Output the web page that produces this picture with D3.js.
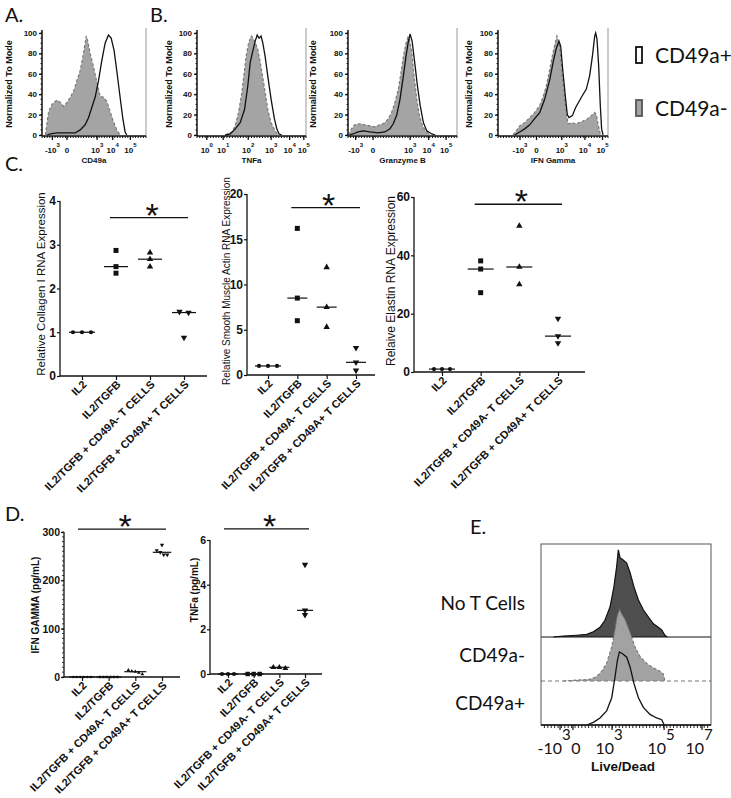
<!DOCTYPE html>
<html><head><meta charset="utf-8">
<script src="https://cdn.jsdelivr.net/npm/d3@7"></script>
<style>
body{margin:0;background:#fff}
svg{display:block}
text{font-family:"Liberation Sans",Arial,sans-serif}
</style>
</head><body>
<script>
// ---------------- DATA ----------------
// Flow histograms: [channel position 0-100, % of mode]
const aNeg = [[3.2,0],[6.4,23],[9.6,30],[12.8,33],[15,34],[17.6,32],[20.8,28],[24,32],[27.2,37],[30.4,43],[33.5,53],[36.7,63],[39.9,80],[42.5,97],[43.8,93],[46.3,80],[49.5,67],[52.7,52],[55.9,38],[59.1,37],[62.3,33],[65.5,23],[68.7,13],[71.9,5],[75.1,0]];
const aPos = [[4.8,0],[8,1],[14.4,2],[24,2],[31.9,2],[36.7,5],[41.5,10],[44.7,17],[47.9,27],[51.1,37],[54.3,53],[57.5,73],[60.7,90],[63.9,98],[66.5,95],[69.3,83],[71.9,63],[75.1,37],[77.6,17],[79.9,3],[81.5,0]];
const tnfNeg = [[25.9,0],[32,3],[35.1,9],[38.1,22],[41.2,42],[43.3,61],[45.1,77],[47.3,90],[49.7,97],[50.9,96],[52.7,92],[54,89],[55.8,84],[57.9,72],[60.1,58],[62.5,42],[64.9,25],[68,12],[71.6,4],[74.7,0]];
const tnfPos = [[25.9,0],[30.5,1],[35.1,6],[39.6,12],[43.6,25],[46.6,48],[48.8,71],[50.9,81],[53.4,92],[55.2,98],[57,95],[58.8,97],[60.4,90],[62.5,77],[64.9,58],[68,35],[71,16],[73.2,6],[75.3,1],[77.7,0]];
const gzbNeg = [[0.9,0],[3.1,6],[6.2,10],[10.8,11],[15.4,10],[20,9],[24.6,8],[29.2,10],[33.8,12],[36.9,16],[40,22],[43.1,32],[46.2,45],[48.6,61],[50.8,77],[53.2,90],[55.1,96],[56.3,94],[58.5,81],[60.6,58],[63.1,35],[65.5,19],[68.6,8],[72.3,3],[75.4,0]];
const gzbPos = [[1.5,0],[4.6,1],[9.2,3],[13.8,4],[20,3],[27.7,2],[33.8,3],[38.5,6],[41.5,11],[44.6,19],[47.7,35],[50.8,58],[53.2,77],[55.1,90],[56.9,99],[58.8,92],[61.2,71],[63.7,48],[66.2,29],[69.2,12],[72.3,4],[76.9,1],[80,0]];
const ifnNeg = [[13.6,0],[16.7,4],[19.7,9],[24.2,12],[28.8,17],[33.3,22],[37.9,29],[40.9,37],[43.9,48],[47,64],[50,81],[52.4,92],[53.6,97],[54.8,92],[56.1,87],[59.1,51],[62.1,22],[63.6,11],[66.7,12],[71.2,11],[75.8,13],[80.3,15],[84.8,19],[87.9,22],[89.4,20],[90.9,11],[93,1],[93.9,0]];
const ifnPos = [[15.2,0],[19.7,3],[24.2,6],[28.8,10],[33.3,16],[37.9,22],[42.4,35],[47,54],[50.6,74],[53,85],[55.5,92],[57,87],[59.1,61],[61.5,35],[63,20],[64.5,17],[67.6,19],[70.6,27],[75.8,37],[80.3,45],[83.3,58],[85.8,77],[87.9,97],[88.8,100],[90,94],[91.5,68],[93,29],[94.2,6],[95.5,0]];
const histYTicks = [0,20,40,60,80,100];
const aTicks = [10,24,53,68,85];
const tnfTicks = [9,24,47,68,85,98];
const gzbTicks = [7,23,57,74,90];
const ifnTicks = [20,35,58,79,95];
const logBase = ["-10","0","10","10","10"];
const logSup = ["3","","3","4","5"];
const tnfBase = ["10","10","10","10","10","10"];
const tnfSup = ["0","1","2","3","4","5"];
const histXLabels = ["CD49a","TNFa","Granzyme B","IFN Gamma"];
const legendLabels = ["CD49a+","CD49a-"];

// Dot plots
const categories = ["IL2","IL2/TGFB","IL2/TGFB + CD49A- T CELLS","IL2/TGFB + CD49A+ T CELLS"];
const collagen = [[1,1,1],[2.87,2.5,2.35],[2.82,2.67,2.5],[1.47,1.45,0.88]];
const smaActin = [[1,1,1],[16.2,8.5,6.0],[11.9,7.5,5.3],[3.0,1.4,0.5]];
const elastin = [[1,1,1],[38.1,35.3,27.2],[50.1,36,30],[18.3,12.3,9.9]];
const ifng = [[0,0,0,0,0,0],[0,0,0,0,0,0],[14,11,9,6,12],[273,262,258,253,253]];
const tnfa = [[0,0,0],[0,0,0],[0.25,0.3,0.3],[4.9,2.85,2.65]];
const collagenTicks = [0,1,2,3,4];
const smaTicks = [0,5,10,15,20];
const elastinTicks = [0,20,40,60];
const ifngTicks = [0,100,200,300];
const tnfaTicks = [0,2,4,6];
const sigLevels = [3.62, 18.5, 57.5, 306, 6.5];
const yLabels = ["Relative Collagen I RNA Expression","Relative Smooth Muscle Actin RNA Expression","Relaive Elastin RNA Expression","IFN GAMMA (pg/mL)","TNFa (pg/mL)"];

// Live/Dead offset histograms
const eNone = [[7.3,0],[13.1,1],[21,2],[26.9,3],[30.8,6],[34.7,11],[37.6,19],[40.6,34],[42.9,57],[44.5,80],[45.5,99],[46.5,90],[48,88],[50.4,84],[52.4,73],[54.7,57],[57.3,42],[60.2,31],[63.1,23],[66.1,15],[69,11],[71,8],[72.9,2],[74.3,0]];
const eNeg = [[13.1,0],[21,1],[28.8,2],[32.7,5],[35.7,11],[38.6,20],[41.6,39],[43.5,58],[44.9,74],[46.1,81],[47.5,76],[49.4,70],[52.4,55],[55.3,39],[58.2,28],[62.2,20],[66.1,15],[70,11],[72,8],[72.9,0]];
const ePos = [[26.9,0],[30.8,3],[34.7,8],[38.6,16],[41.6,31],[43.5,54],[44.9,73],[46.1,83],[48,81],[50.4,77],[52.4,66],[54.7,47],[57.3,31],[60.2,20],[64.1,12],[68,8],[71,6],[72.5,0]];
const eRowLabels = ["No T Cells","CD49a-","CD49a+"];
const eTicks = [11.2,18.8,41.8,72.4,94.7];
const eBase = ["-10","0","10","10","10"];
const eSup = ["3","","3","5","7"];

// ---------------- DRAW ----------------
const svg = d3.select("body").append("svg").attr("width",731).attr("height",798);
const CAL = "Lato, 'Open Sans', sans-serif";

function letter(x,y,s){ svg.append("text").attr("x",x).attr("y",y).text(s).style("font-family",CAL).style("font-size","20px").attr("fill","#111"); }
letter(5,22,"A."); letter(150,22,"B."); letter(5,171,"C."); letter(5,521,"D."); letter(470,534,"E.");

// ---- flow histograms ----
const histPanels = [
  {left:42,right:146,neg:aNeg,pos:aPos,ticks:aTicks,base:logBase,sup:logSup,ylx:9},
  {left:197,right:306,neg:tnfNeg,pos:tnfPos,ticks:tnfTicks,base:tnfBase,sup:tnfSup,ylx:169},
  {left:348,right:457,neg:gzbNeg,pos:gzbPos,ticks:gzbTicks,base:logBase,sup:logSup,ylx:313},
  {left:498,right:608,neg:ifnNeg,pos:ifnPos,ticks:ifnTicks,base:logBase,sup:logSup,ylx:469}
];
histPanels.forEach((p,pi)=>{
  const g = svg.append("g");
  const x = d3.scaleLinear().domain([0,100]).range([p.left,p.right]);
  const y = d3.scaleLinear().domain([0,100]).range([135,33]);
  const area = d3.area().x(d=>x(d[0])).y0(y(0)).y1(d=>y(d[1]));
  const line = d3.line().x(d=>x(d[0])).y(d=>y(d[1]));
  g.append("path").attr("d",area(p.neg)).attr("fill","#a4a4a4");
  g.append("path").attr("d",line(p.neg)).attr("fill","none").attr("stroke","#7a7a7a").attr("stroke-width",1.2).attr("stroke-dasharray","3,2");
  g.append("path").attr("d",line(p.pos)).attr("fill","none").attr("stroke","#111").attr("stroke-width",1.3);
  g.append("line").attr("x1",p.right).attr("x2",p.right).attr("y1",28).attr("y2",136).attr("stroke","#999").attr("stroke-width",1);
  const ya = d3.axisLeft(y).tickValues(histYTicks).tickSize(3).tickPadding(2);
  const ga = g.append("g").attr("transform",`translate(${p.left},0)`).call(ya);
  ga.select(".domain").remove();
  g.append("line").attr("x1",p.left).attr("x2",p.left).attr("y1",30).attr("y2",136).attr("stroke","#111").attr("stroke-width",1.5);
  d3.range(0,101,5).forEach(v=>g.append("line").attr("x1",p.left-1.5).attr("x2",p.left).attr("y1",y(v)).attr("y2",y(v)).attr("stroke","#111"));
  ga.selectAll("line").attr("stroke","#111").attr("stroke-width",1.3);
  ga.selectAll("text").style("font-size","8px").style("font-weight","bold").attr("fill","#111");
  g.append("line").attr("x1",p.left).attr("x2",p.right).attr("y1",136).attr("y2",136).attr("stroke","#111").attr("stroke-width",1.5);
  d3.range(0,100.1,2.5).forEach(v=>g.append("line").attr("x1",x(v)).attr("x2",x(v)).attr("y1",136).attr("y2",138).attr("stroke","#111"));
  p.ticks.forEach((t,i)=>{
    g.append("line").attr("x1",x(t)).attr("x2",x(t)).attr("y1",136).attr("y2",140).attr("stroke","#111").attr("stroke-width",1.3);
    const tx = g.append("text").attr("x",x(t)).attr("y",153).attr("text-anchor","middle").style("font-size","8px").style("font-weight","bold").attr("fill","#111");
    tx.append("tspan").text(p.base[i]);
    if(p.sup[i]) tx.append("tspan").attr("dy",-6).style("font-size","6px").text(p.sup[i]);
  });
  g.append("text").attr("x",(p.left+p.right)/2).attr("y",163).attr("text-anchor","middle").style("font-size","8px").style("font-weight","bold").attr("fill","#111").text(histXLabels[pi]);
  g.append("text").attr("transform",`translate(${p.ylx},84) rotate(-90)`).attr("text-anchor","middle").attr("dominant-baseline","central").style("font-size","9px").style("font-weight","bold").attr("fill","#111").text("Normalized To Mode");
});

// legend
svg.append("rect").attr("x",636).attr("y",47).attr("width",6).attr("height",16).attr("fill","#fff").attr("stroke","#111").attr("stroke-width",1.8);
svg.append("rect").attr("x",636).attr("y",100).attr("width",6).attr("height",16).attr("fill","#a4a4a4").attr("stroke","#555").attr("stroke-width",1.8);
svg.append("text").attr("x",655).attr("y",63).text(legendLabels[0]).style("font-family",CAL).style("font-size","21px").attr("fill","#111");
svg.append("text").attr("x",655).attr("y",116).text(legendLabels[1]).style("font-family",CAL).style("font-size","21px").attr("fill","#111");

// ---- dot plots ----
const symTypes = [d3.symbolCircle,d3.symbolSquare,d3.symbolTriangle,d3.symbolTriangle];
function spreadOffsets(vals,y,spacing,thr){
  const px = vals.map(v=>y(v));
  const idx = d3.range(vals.length).sort((a,b)=>px[a]-px[b]);
  const off = new Array(vals.length).fill(0);
  const clusters=[]; let cur=[idx[0]];
  for(let k=1;k<idx.length;k++){ if(px[idx[k]]-px[cur[cur.length-1]]<thr) cur.push(idx[k]); else {clusters.push(cur); cur=[idx[k]];} }
  clusters.push(cur);
  clusters.forEach(c=>c.forEach((i,j)=>off[i]=(j-(c.length-1)/2)*spacing));
  return off;
}
const dotPanels = [
  {left:60,right:207,cx0:82,cx1:184,y0:376,y1:201,ymax:4,ticks:collagenTicks,data:collagen,sp:9,mw:24,sym:[14,25,18,18],tf:12,lf:11,yl:11.5,ylx:41,yly:284,ylw:"normal",sigFrom:1},
  {left:247,right:375,cx0:268,cx1:356,y0:375,y1:194,ymax:20,ticks:smaTicks,data:smaActin,sp:9,mw:20,sym:[14,25,18,18],tf:12,lf:11,yl:10,ylx:226,yly:281,ylw:"normal",sigFrom:1},
  {left:414,right:585,cx0:442,cx1:558,y0:372,y1:197,ymax:60,ticks:elastinTicks,data:elastin,sp:8,mw:26,sym:[14,25,18,18],tf:12,lf:11,yl:12,ylx:391,yly:281,ylw:"normal",sigFrom:1},
  {left:64,right:180,cx0:82,cx1:162,y0:677,y1:532,ymax:300,ticks:ifngTicks,data:ifng,sp:3.5,mw:16,sym:[5,6,6,8],tf:10.5,lf:11,yl:10,ylx:35,yly:605,ylw:"bold",sigFrom:0,minor:10},
  {left:210,right:322,cx0:228,cx1:305,y0:674,y1:540,ymax:6,ticks:tnfaTicks,data:tnfa,sp:6,mw:16,sym:[14,20,15,18],tf:10.5,lf:11,yl:10,ylx:194,yly:590,ylw:"bold",sigFrom:0}
];
dotPanels.forEach((p,pi)=>{
  const g = svg.append("g");
  const x = d3.scalePoint().domain(categories).range([p.cx0,p.cx1]);
  const y = d3.scaleLinear().domain([0,p.ymax]).range([p.y0,p.y1]);
  const ga = g.append("g").attr("transform",`translate(${p.left},0)`).call(d3.axisLeft(y).tickValues(p.ticks).tickSize(3).tickPadding(1).tickFormat(d3.format("d")));
  ga.select(".domain").attr("stroke","#111").attr("stroke-width",1.3).attr("d",`M0,${p.y0}V${p.y1}`);
  ga.selectAll(".tick line").attr("stroke","#111").attr("stroke-width",1.2);
  ga.selectAll("text").style("font-size",p.tf+"px").style("font-weight","bold").attr("fill","#111");
  if(p.minor){ d3.range(0,p.ymax+0.01,p.minor).forEach(v=>g.append("line").attr("x1",p.left-2).attr("x2",p.left).attr("y1",y(v)).attr("y2",y(v)).attr("stroke","#111").attr("stroke-width",0.8)); }
  const gx = g.append("g").attr("transform",`translate(0,${p.y0})`).call(d3.axisBottom(x).tickSize(4));
  gx.select(".domain").remove();
  g.append("line").attr("x1",p.left).attr("x2",p.right).attr("y1",p.y0).attr("y2",p.y0).attr("stroke","#111").attr("stroke-width",1.3);
  gx.selectAll(".tick line").attr("stroke","#111").attr("stroke-width",1.2);
  gx.selectAll("text").attr("x",-3).attr("y",6).attr("dy","0.35em").attr("transform","rotate(-45)").attr("text-anchor","end")
    .style("font-size",p.lf+"px").style("font-weight","bold").attr("fill","#111");
  p.data.forEach((vals,ci)=>{
    const cx = x(categories[ci]);
    const off = spreadOffsets(vals,y,p.sp,2.5);
    const ext = d3.max(off.map(Math.abs));
    const mw = Math.max(p.mw, 2*ext+8);
    const med = d3.median(vals);
    g.append("line").attr("x1",cx-mw/2).attr("x2",cx+mw/2).attr("y1",y(med)).attr("y2",y(med)).attr("stroke","#111").attr("stroke-width",1.2);
    vals.forEach((v,i)=>{
      const rot = ci===3 ? " rotate(180)" : "";
      g.append("path").attr("d",d3.symbol().type(symTypes[ci]).size(p.sym[ci])()).attr("transform",`translate(${cx+off[i]},${y(v)})${rot}`).attr("fill","#111");
    });
  });
  const xa = x(categories[p.sigFrom]) - (p.sigFrom===1?6:4);
  const xb = x(categories[3]) + 4;
  const ys = y(sigLevels[pi]);
  g.append("line").attr("x1",xa).attr("x2",xb).attr("y1",ys).attr("y2",ys).attr("stroke","#111").attr("stroke-width",1.4);
  g.append("text").attr("x",(xa+xb)/2+3).attr("y",ys+9).attr("text-anchor","middle").style("font-size","34px").attr("fill","#111").text("*");
  g.append("text").attr("transform",`translate(${p.ylx},${p.yly}) rotate(-90)`).attr("text-anchor","middle").attr("dominant-baseline","central")
    .style("font-size",p.yl+"px").style("font-weight",p.ylw).attr("fill","#111").text(yLabels[pi]);
});

// ---- Live/Dead panel ----
(function(){
  const L=541,R=711,T=544,B=725;
  const x = d3.scaleLinear().domain([0,100]).range([L,R]);
  const bases = [637,681,725];
  const ys = bases.map(b=>d3.scaleLinear().domain([0,100]).range([b,b-88]));
  const g = svg.append("g");
  const area = (y)=>d3.area().x(d=>x(d[0])).y0(y(0)).y1(d=>y(d[1]));
  const line = (y)=>d3.line().x(d=>x(d[0])).y(d=>y(d[1]));
  g.append("path").attr("d",area(ys[0])(eNone)).attr("fill","#4e4e4e");
  g.append("path").attr("d",line(ys[0])(eNone)).attr("fill","none").attr("stroke","#111").attr("stroke-width",1.2);
  g.append("line").attr("x1",L).attr("x2",R).attr("y1",bases[0]).attr("y2",bases[0]).attr("stroke","#111").attr("stroke-width",1.2);
  g.append("path").attr("d",area(ys[1])(eNeg)).attr("fill","#a2a2a2");
  g.append("path").attr("d",line(ys[1])(eNeg)).attr("fill","none").attr("stroke","#777").attr("stroke-width",1.1).attr("stroke-dasharray","3,2");
  g.append("line").attr("x1",L).attr("x2",R).attr("y1",bases[1]).attr("y2",bases[1]).attr("stroke","#777").attr("stroke-width",1).attr("stroke-dasharray","4,3");
  g.append("path").attr("d",line(ys[2])(ePos)).attr("fill","none").attr("stroke","#111").attr("stroke-width",1.3);
  g.append("rect").attr("x",L).attr("y",T).attr("width",R-L).attr("height",B-T).attr("fill","none").attr("stroke","#555").attr("stroke-width",1);
  g.append("line").attr("x1",L).attr("x2",R).attr("y1",B).attr("y2",B).attr("stroke","#111").attr("stroke-width",1.3);
  d3.range(2,100,2).forEach(v=>g.append("line").attr("x1",x(v)).attr("x2",x(v)).attr("y1",B).attr("y2",B+3).attr("stroke","#111").attr("stroke-width",0.9));
  eTicks.forEach((t,i)=>{
    g.append("line").attr("x1",x(t)).attr("x2",x(t)).attr("y1",B).attr("y2",B+5).attr("stroke","#111").attr("stroke-width",1.2);
    if(eSup[i]){
      g.append("text").attr("x",x(t)+2).attr("y",754).attr("text-anchor","end").style("font-family",CAL).style("font-size","16px").attr("fill","#111").text(eBase[i]);
      g.append("text").attr("x",x(t)+2).attr("y",740).attr("text-anchor","start").style("font-family",CAL).style("font-size","15px").attr("fill","#111").text(eSup[i]);
    } else {
      g.append("text").attr("x",x(t)+3).attr("y",754).attr("text-anchor","middle").style("font-family",CAL).style("font-size","16px").attr("fill","#111").text(eBase[i]);
    }
  });
  g.append("text").attr("x",623).attr("y",771).attr("text-anchor","middle").style("font-size","13.5px").style("font-weight","bold").attr("fill","#111").text("Live/Dead");
  const ly = [610,662,710];
  eRowLabels.forEach((s,i)=>g.append("text").attr("x",525).attr("y",ly[i]).attr("text-anchor","end").style("font-family",CAL).style("font-size","19px").attr("fill","#111").text(s));
})();
</script>
</body></html>
